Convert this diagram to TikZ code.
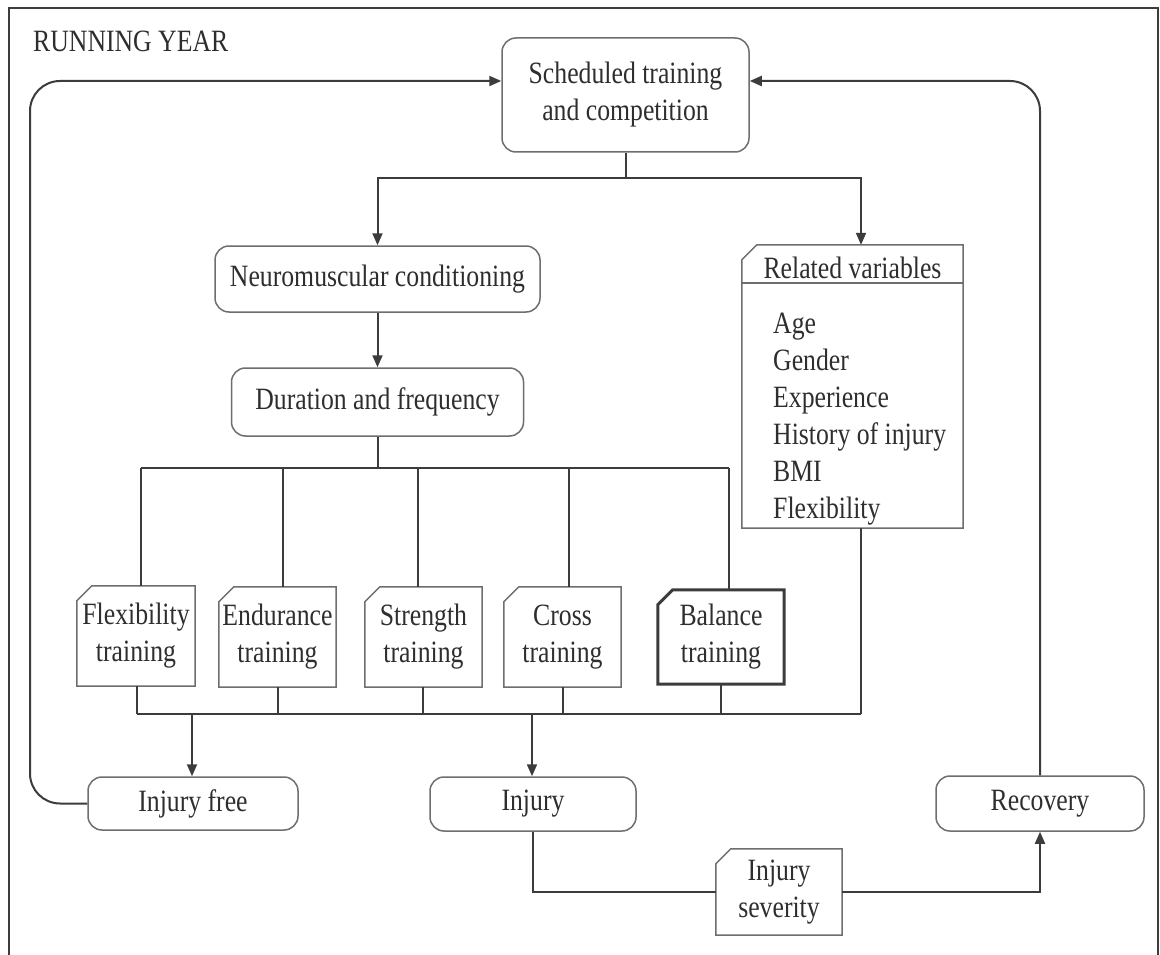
\documentclass[tikz,border=0pt]{standalone}
\usepackage{fontspec}
\setmainfont[FakeStretch=0.83]{Liberation Serif}
\usetikzlibrary{arrows.meta}
\definecolor{boxc}{HTML}{6E6E6E}
\definecolor{linec}{HTML}{3C3C3C}
\definecolor{txtc}{HTML}{2E2E2E}
\begin{document}
\begin{tikzpicture}[x=1pt,y=-1pt,
  every node/.style={font=\fontsize{31}{37}\selectfont, text=txtc},
  rbox/.style={draw=boxc, line width=1.5pt, rounded corners=14pt, align=center, inner sep=0pt},
  pbox/.style={align=center, inner sep=0pt},
  cutline/.style={draw=boxc, line width=1.5pt},
  conn/.style={draw=linec, line width=2pt},
  arr/.style={conn, -{Triangle[length=12pt,width=10pt]}},
]
\useasboundingbox (0,0) rectangle (1160,955);
\fill[white] (0,0) rectangle (1160,955);
\draw[draw=linec, line width=2pt] (9,960) -- (9,8) -- (1158,8) -- (1158,960);

\node[anchor=base west, inner sep=0pt] (title) at (33,52) {RUNNING YEAR};

\node[rbox, minimum width=247pt, minimum height=114pt] (sched) at (625.5,95) {Scheduled training\\and competition};
\node[rbox, minimum width=325pt, minimum height=66pt] (neuro) at (377.5,279) {Neuromuscular conditioning};
\node[rbox, minimum width=292pt, minimum height=68pt] (dur) at (377.5,402) {Duration and frequency};

\node[pbox, minimum width=221pt, minimum height=283pt] (rel) at (852.5,386.5) {};
\node[inner sep=0pt] (relhead) at (852.5,268) {Related variables};
\node[anchor=north west, align=left, inner sep=0pt] (rellist) at (773,313) {Age\\Gender\\Experience\\History of injury\\BMI\\Flexibility};

\node[pbox, minimum width=118pt, minimum height=100pt] (flex) at (136,636) {Flexibility\\training};
\node[pbox, minimum width=117pt, minimum height=100pt] (endu) at (277.5,637) {Endurance\\training};
\node[pbox, minimum width=117pt, minimum height=100pt] (stren) at (423.5,637) {Strength\\training};
\node[pbox, minimum width=117pt, minimum height=100pt] (cross) at (562.5,637) {Cross\\training};
\node[pbox, minimum width=126pt, minimum height=94pt] (bal) at (721,637) {Balance\\training};

\node[rbox, minimum width=210pt, minimum height=53pt] (ifree) at (193,803.5) {Injury free};
\node[rbox, minimum width=206pt, minimum height=54pt] (inj) at (533,804) {Injury};
\node[rbox, minimum width=208pt, minimum height=55pt] (rec) at (1040,803.5) {Recovery};
\node[pbox, minimum width=126pt, minimum height=86pt] (sev) at (779,892) {Injury\\severity};

\foreach \n in {flex,endu,stren,cross,sev,rel}
  \draw[cutline] ([yshift=-15pt]\n.north west) -- ([xshift=15pt]\n.north west) -- (\n.north east) -- (\n.south east) -- (\n.south west) -- cycle;
\draw[draw=linec, line width=3pt] ([yshift=-15pt]bal.north west) -- ([xshift=15pt]bal.north west) -- (bal.north east) -- (bal.south east) -- (bal.south west) -- cycle;
\draw[cutline] (rel.west |- 0,283) -- (rel.east |- 0,283);

% top distribution
\coordinate (j1) at (625.5,178);
\draw[conn] (sched.south) -- (j1);
\draw[arr] (j1) -| (neuro.north);
\draw[arr] (j1) -| ([xshift=8.5pt]rel.north);
\draw[arr] (neuro.south) -- (dur.north);

% training bar
\coordinate (j2) at (377.5,468);
\coordinate (t1) at (141,468);
\coordinate (t2) at (283,468);
\coordinate (t3) at (418,468);
\coordinate (t4) at (569,468);
\coordinate (t5) at (729,468);
\draw[conn] (dur.south) -- (j2);
\draw[conn] (t1) -- (t5);
\draw[conn] (t1) -- (t1 |- flex.north);
\draw[conn] (t2) -- (t2 |- endu.north);
\draw[conn] (t3) -- (t3 |- stren.north);
\draw[conn] (t4) -- (t4 |- cross.north);
\draw[conn] (t5) -- (t5 |- bal.north);

% bottom bar
\coordinate (b1) at (137,714);
\coordinate (b2) at (278,714);
\coordinate (b3) at (423,714);
\coordinate (b4) at (563,714);
\coordinate (b5) at (721,714);
\coordinate (b6) at (861,714);
\draw[conn] (b1) -- (b6);
\draw[conn] (b1 |- flex.south) -- (b1);
\draw[conn] (b2 |- endu.south) -- (b2);
\draw[conn] (b3 |- stren.south) -- (b3);
\draw[conn] (b4 |- cross.south) -- (b4);
\draw[conn] (b5 |- bal.south) -- (b5);
\draw[conn] (b6 |- rel.south) -- (b6);
\coordinate (a1) at (192,714);
\coordinate (a2) at (532,714);
\draw[arr] (a1) -- (a1 |- ifree.north);
\draw[arr] (a2) -- (a2 |- inj.north);

% loops
\coordinate (lc) at (30,81);
\draw[arr, rounded corners=30pt] (ifree.west) -| (lc) -- ([yshift=14pt]sched.west);
\draw[arr, rounded corners=30pt] (rec.north) |- ([yshift=14pt]sched.east);
\draw[conn] (inj.south) |- (sev.west);
\draw[arr] (sev.east) -| (rec.south);
\end{tikzpicture}
\end{document}
